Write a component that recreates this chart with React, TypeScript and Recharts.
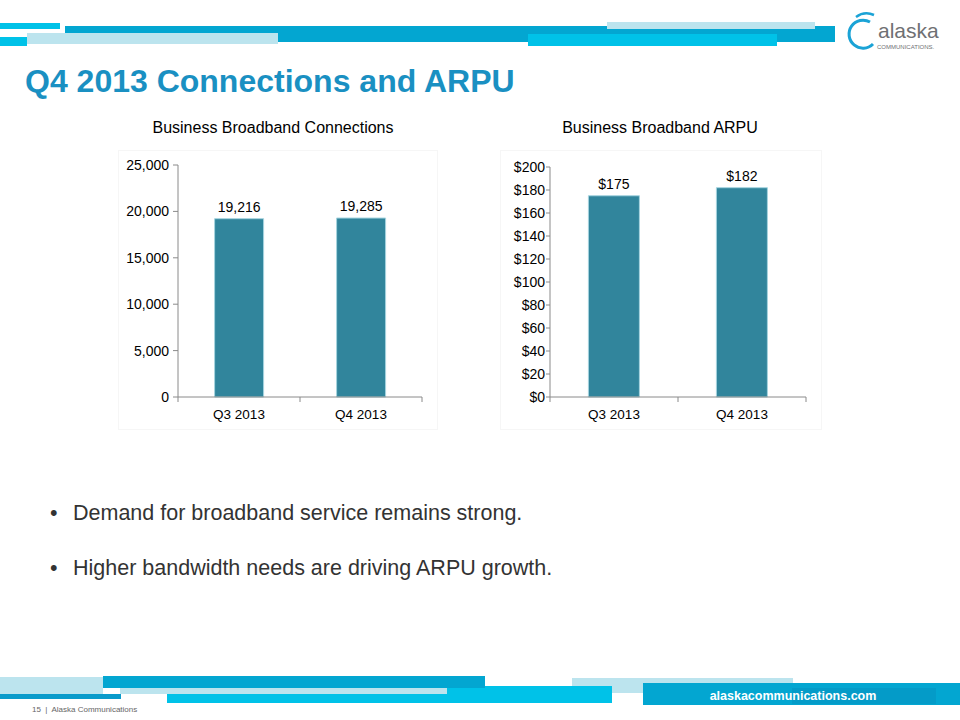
import React from "react";
import { BarChart, Bar, XAxis, YAxis, LabelList } from "recharts";

const categories = ["Q3 2013", "Q4 2013"];
const connections = [19216, 19285];
const arpu = [175, 182];
const connTicks = [0, 5000, 10000, 15000, 20000, 25000];
const arpuTicks = [0, 20, 40, 60, 80, 100, 120, 140, 160, 180, 200];
const bullets = [
  "Demand for broadband service remains strong.",
  "Higher bandwidth needs are driving ARPU growth.",
];

const connData = categories.map((c, i) => ({ name: c, value: connections[i] }));
const arpuData = categories.map((c, i) => ({ name: c, value: arpu[i] }));

const FONT = "'Liberation Sans', Arial, sans-serif";
const BAR = "#31859c";
const AXIS = "#8a8a8a";
const MAIN = "#03a6d1";
const CYAN = "#00c2e8";
const PALE = "#bce4ee";

const makeTick = (halfBand: number) => (props: any) => {
  const { x, y, payload, index } = props;
  const axisY = y - 8;
  return (
    <g>
      {index === 0 && (
        <line x1={x - halfBand} x2={x - halfBand} y1={axisY} y2={axisY + 5} stroke={AXIS} />
      )}
      <line x1={x + halfBand} x2={x + halfBand} y1={axisY} y2={axisY + 5} stroke={AXIS} />
      <text x={x} y={axisY + 22} textAnchor="middle" fontSize={13.5} fill="#000" fontFamily={FONT}>
        {payload.value}
      </text>
    </g>
  );
};

const Rect = ({ x, y, w, h, c }: { x: number; y: number; w: number; h: number; c: string }) => (
  <div style={{ position: "absolute", left: x, top: y, width: w, height: h, background: c }} />
);

export default function App() {
  return (
    <div
      style={{
        position: "absolute",
        left: 0,
        top: 0,
        width: 960,
        height: 720,
        background: "#fff",
        overflow: "hidden",
        fontFamily: FONT,
      }}
    >
      {/* header decoration */}
      <Rect x={65} y={26} w={770} h={16} c={MAIN} />
      <Rect x={27} y={33} w={251} h={11} c={PALE} />
      <Rect x={0} y={23} w={60} h={6} c={CYAN} />
      <Rect x={0} y={37} w={27} h={9} c={CYAN} />
      <Rect x={607} y={22} w={208} h={7} c={PALE} />
      <Rect x={528} y={34} w={249} h={12} c={CYAN} />

      {/* logo */}
      <svg style={{ position: "absolute", left: 840, top: 8 }} width={115} height={45}>
        <path d="M 30 14 A 14 14 0 1 0 33 36" fill="none" stroke="#1ba3d6" strokeWidth={3} />
        <path d="M 16 9 A 18 18 0 0 1 34 7" fill="none" stroke="#1ba3d6" strokeWidth={2.5} />
        <text x={38} y={30} fontSize={21} fill="#6f7073" fontFamily={FONT}>
          alaska
        </text>
        <text x={37} y={41} fontSize={6} fill="#6f7073" fontFamily={FONT}>
          COMMUNICATIONS.
        </text>
      </svg>

      {/* title */}
      <div
        style={{
          position: "absolute",
          left: 25,
          top: 62,
          fontSize: 32,
          fontWeight: "bold",
          color: "#1a90c2",
          whiteSpace: "nowrap",
          lineHeight: "38px",
        }}
      >
        Q4 2013 Connections and ARPU
      </div>

      {/* chart titles */}
      <div style={{ position: "absolute", left: 273 - 150, top: 119, width: 300, textAlign: "center", fontSize: 16, color: "#000" }}>
        Business Broadband Connections
      </div>
      <div style={{ position: "absolute", left: 660 - 150, top: 119, width: 300, textAlign: "center", fontSize: 16, color: "#000" }}>
        Business Broadband ARPU
      </div>

      {/* chart 1 */}
      <div style={{ position: "absolute", left: 118, top: 150, width: 320, height: 280, border: "1px solid #f6f6f6", boxSizing: "border-box" }} />
      <div style={{ position: "absolute", left: 118, top: 150 }}>
        <BarChart width={320} height={280} data={connData} margin={{ top: 15, right: 16, bottom: 8, left: 0 }} barCategoryGap="30%">
          <XAxis dataKey="name" stroke={AXIS} tickLine={false} tickSize={6} tickMargin={2} height={25} tick={makeTick(61)} interval={0} />
          <YAxis
            width={60}
            domain={[0, 25000]}
            ticks={connTicks}
            stroke={AXIS}
            tickSize={5}
            tickMargin={4}
            tick={{ fontSize: 14, fill: "#000", fontFamily: FONT }}
            tickFormatter={(v: number) => v.toLocaleString("en-US")}
          />
          <Bar dataKey="value" fill={BAR} stroke="#a6d4df" strokeWidth={1} isAnimationActive={false}>
            <LabelList
              dataKey="value"
              position="top"
              offset={7}
              fontSize={14}
              fill="#000"
              fontFamily={FONT}
              formatter={(v: any) => Number(v).toLocaleString("en-US")}
            />
          </Bar>
        </BarChart>
      </div>

      {/* chart 2 */}
      <div style={{ position: "absolute", left: 500, top: 150, width: 322, height: 280, border: "1px solid #f6f6f6", boxSizing: "border-box" }} />
      <div style={{ position: "absolute", left: 500, top: 150 }}>
        <BarChart width={322} height={280} data={arpuData} margin={{ top: 17, right: 16, bottom: 8, left: 0 }} barCategoryGap="30%">
          <XAxis dataKey="name" stroke={AXIS} tickLine={false} tickSize={6} tickMargin={2} height={25} tick={makeTick(64)} interval={0} />
          <YAxis
            width={50}
            domain={[0, 200]}
            ticks={arpuTicks}
            stroke={AXIS}
            tickSize={4}
            tickMargin={1}
            interval={0}
            tick={{ fontSize: 14, fill: "#000", fontFamily: FONT }}
            tickFormatter={(v: number) => `$${v}`}
          />
          <Bar dataKey="value" fill={BAR} stroke="#a6d4df" strokeWidth={1} isAnimationActive={false}>
            <LabelList
              dataKey="value"
              position="top"
              offset={7}
              fontSize={14}
              fill="#000"
              fontFamily={FONT}
              formatter={(v: any) => `$${v}`}
            />
          </Bar>
        </BarChart>
      </div>

      {/* bullets */}
      {bullets.map((b, i) => (
        <div
          key={b}
          style={{ position: "absolute", left: 50, top: 499 + i * 55, fontSize: 21.5, color: "#333", whiteSpace: "nowrap", lineHeight: "28px" }}
        >
          <span style={{ display: "inline-block", width: 23 }}>•</span>
          {b}
        </div>
      ))}

      {/* footer decoration */}
      <Rect x={0} y={677} w={103} h={17} c={PALE} />
      <Rect x={572} y={678} w={221} h={15} c={PALE} />
      <Rect x={167} y={686} w={445} h={17} c={CYAN} />
      <Rect x={103} y={676} w={382} h={12} c={MAIN} />
      <Rect x={120} y={688} w={327} h={6} c={PALE} />
      <Rect x={0} y={694} w={121} h={5} c="#0a9bcb" />
      <Rect x={643} y={683} w={317} h={22} c={MAIN} />
      <Rect x={792} y={688} w={144} h={16} c="#049bc8" />
      <div
        style={{
          position: "absolute",
          left: 643,
          top: 686,
          width: 300,
          textAlign: "center",
          color: "#fff",
          fontWeight: "bold",
          fontSize: 12.5,
          lineHeight: "20px",
        }}
      >
        alaskacommunications.com
      </div>
      <div style={{ position: "absolute", left: 32, top: 705, fontSize: 8, color: "#666", whiteSpace: "nowrap" }}>
        15 &nbsp;|&nbsp; Alaska Communications
      </div>
    </div>
  );
}
